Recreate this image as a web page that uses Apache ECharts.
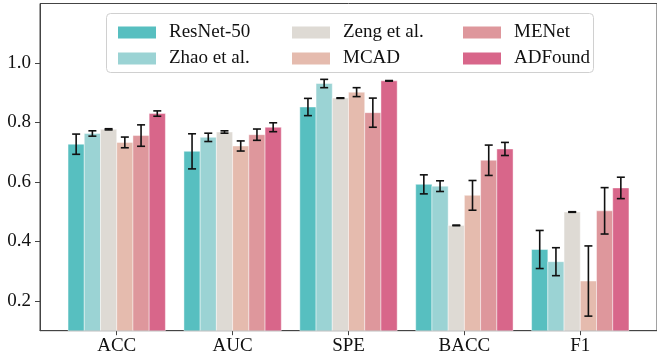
<!DOCTYPE html>
<html>
<head>
<meta charset="utf-8">
<script src="https://cdn.jsdelivr.net/npm/echarts@6/dist/echarts.min.js"></script>
<style>html,body{margin:0;padding:0;background:#fff;}#c{width:657px;height:360px;}</style>
</head>
<body>
<div id="c"></div>
<script>
const categories = ['ACC', 'AUC', 'SPE', 'BACC', 'F1'];
const models = ['ResNet-50', 'Zhao et al.', 'Zeng et al.', 'MCAD', 'MENet', 'ADFound'];
const yTicks = [0.2, 0.4, 0.6, 0.8, 1.0];

const resnetVals  = [0.727, 0.703, 0.852, 0.592, 0.373];
const resnetErr   = [0.034, 0.059, 0.029, 0.032, 0.064];
const zhaoVals    = [0.763, 0.750, 0.931, 0.586, 0.332];
const zhaoErr     = [0.009, 0.014, 0.014, 0.018, 0.047];
const zengVals    = [0.777, 0.768, 0.882, 0.454, 0.499];
const zengErr     = [0.002, 0.004, 0.001, 0.001, 0.001];
const mcadVals    = [0.733, 0.721, 0.902, 0.555, 0.267];
const mcadErr     = [0.018, 0.017, 0.015, 0.050, 0.118];
const menetVals   = [0.756, 0.759, 0.833, 0.673, 0.503];
const menetErr    = [0.036, 0.019, 0.049, 0.051, 0.078];
const adfoundVals = [0.830, 0.784, 0.940, 0.711, 0.580];
const adfoundErr  = [0.009, 0.015, 0.001, 0.022, 0.036];

const allVals = [resnetVals, zhaoVals, zengVals, mcadVals, menetVals, adfoundVals];
const allErr = [resnetErr, zhaoErr, zengErr, mcadErr, menetErr, adfoundErr];
const colors = ['#57BFC0', '#9BD3D4', '#DEDAD4', '#E5BBAE', '#DE979C', '#D8668A'];

const FONT = "'Liberation Serif', 'Times New Roman', serif";
const BAR_W = 0.14;
const AXIS_COLOR = '#444';

const series = models.map((name, si) => ({
  name: name,
  type: 'custom',
  itemStyle: { color: colors[si] },
  encode: { x: 0, y: 1 },
  data: categories.map((c, ci) => [ci, allVals[si][ci], allErr[si][ci]]),
  renderItem: function (params, api) {
    const ci = api.value(0), v = api.value(1), e = api.value(2);
    const xc = ci + (si - 2.5) * BAR_W;
    const p0 = api.coord([xc - BAR_W / 2, v]);
    const p1 = api.coord([xc + BAR_W / 2, 0.1]);
    const pc = api.coord([xc, v]);
    const pt = api.coord([xc, v + e]);
    const pb = api.coord([xc, v - e]);
    const cap = 4;
    const ls = { stroke: '#111', lineWidth: 1.6 };
    return {
      type: 'group',
      children: [
        { type: 'rect', shape: { x: p0[0], y: p0[1], width: p1[0] - p0[0], height: p1[1] - p0[1] },
          style: { fill: colors[si], stroke: 'rgba(255,255,255,0.55)', lineWidth: 0.8 } },
        { type: 'line', shape: { x1: pc[0], y1: pt[1], x2: pc[0], y2: pb[1] }, style: ls },
        { type: 'line', shape: { x1: pc[0] - cap, y1: pt[1], x2: pc[0] + cap, y2: pt[1] }, style: ls },
        { type: 'line', shape: { x1: pc[0] - cap, y1: pb[1], x2: pc[0] + cap, y2: pb[1] }, style: ls }
      ]
    };
  }
}));

function makeLegend(names, left) {
  return {
    data: names,
    orient: 'vertical',
    left: left,
    top: 18,
    z: 20,
    itemWidth: 38,
    itemHeight: 12,
    itemGap: 7,
    icon: 'rect',
    selectedMode: false,
    textStyle: { fontFamily: FONT, fontSize: 19, color: '#111', padding: [0, 0, 0, 8] }
  };
}

const chart = echarts.init(document.getElementById('c'), null, { renderer: 'canvas' });
chart.setOption({
  animation: false,
  backgroundColor: '#fff',
  grid: {
    left: 40, top: 3.5, width: 621.3, bottom: 29.3,
    show: true, borderColor: AXIS_COLOR, borderWidth: 1, backgroundColor: 'transparent'
  },
  graphic: [{
    type: 'rect', left: 106, top: 13, z: 5,
    shape: { width: 487, height: 59, r: 4 },
    style: { fill: 'rgba(255,255,255,0.8)', stroke: '#d0d0d0', lineWidth: 1 }
  }],
  legend: [
    makeLegend([models[0], models[1]], 113),
    makeLegend([models[2], models[3]], 287),
    makeLegend([models[4], models[5]], 458)
  ],
  xAxis: {
    type: 'value',
    min: -0.662, max: 4.662,
    splitLine: { show: false },
    axisLine: { show: true, onZero: false, lineStyle: { color: AXIS_COLOR, width: 1 } },
    axisTick: { show: true, length: 4.5, customValues: [0, 1, 2, 3, 4], lineStyle: { color: AXIS_COLOR } },
    axisLabel: {
      customValues: [0, 1, 2, 3, 4],
      formatter: v => categories[Math.round(v)],
      fontFamily: FONT, fontSize: 19, color: '#111', margin: 6
    }
  },
  yAxis: {
    type: 'value',
    min: 0.1, max: 1.2,
    splitLine: { show: false },
    axisLine: { show: true, onZero: false, lineStyle: { color: AXIS_COLOR, width: 1 } },
    axisTick: { show: true, length: 5, customValues: yTicks, lineStyle: { color: AXIS_COLOR } },
    axisLabel: {
      customValues: yTicks,
      formatter: v => v.toFixed(1),
      fontFamily: FONT, fontSize: 19, color: '#111', margin: 9
    }
  },
  series: series
});
</script>
</body>
</html>
